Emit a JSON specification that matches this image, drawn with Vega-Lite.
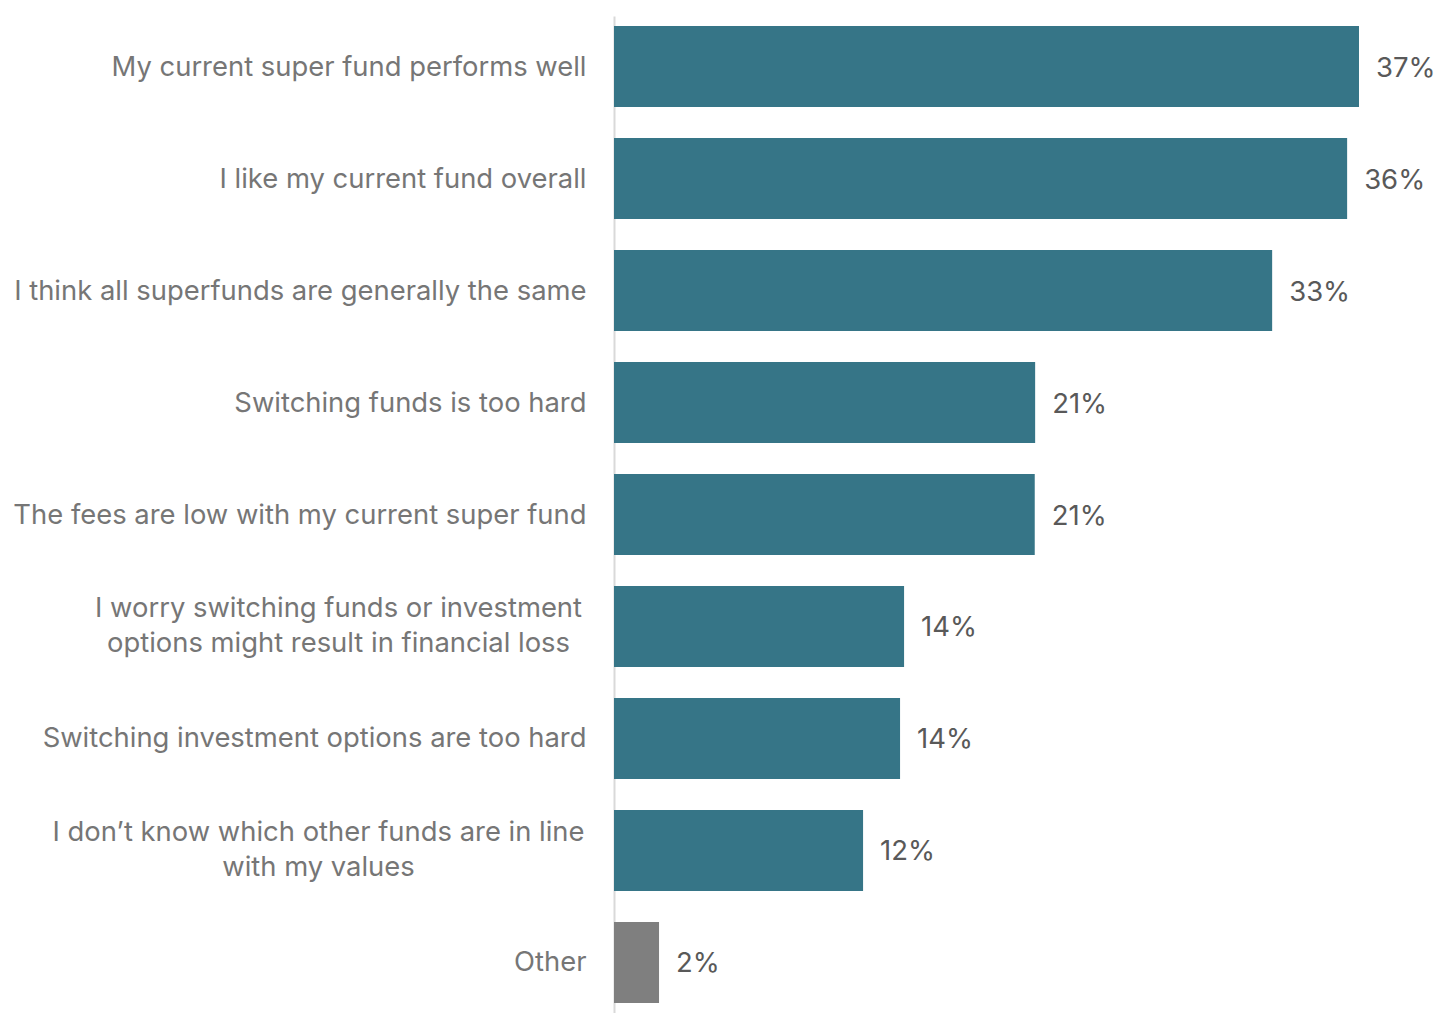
{
  "$schema": "https://vega.github.io/schema/vega-lite/v6.json",
  "autosize": {"type": "none"},
  "padding": {"left": 614, "top": 16, "right": 0, "bottom": 0},
  "width": 825,
  "height": 997,
  "background": "#ffffff",
  "config": {
    "view": {"stroke": null},
    "font": "Inter"
  },
  "data": {
    "values": [
      {"reason": "My current super fund performs well", "share": 0.3706},
      {"reason": "I like my current fund overall", "share": 0.3647},
      {"reason": "I think all superfunds are generally the same", "share": 0.3274},
      {"reason": "Switching funds is too hard", "share": 0.2095},
      {"reason": "The fees are low with my current super fund", "share": 0.2093},
      {"reason": "I worry switching funds or investment|options might result in financial loss", "share": 0.1443},
      {"reason": "Switching investment options are too hard", "share": 0.1423},
      {"reason": "I don’t know which other funds are in line|with my values", "share": 0.1239},
      {"reason": "Other", "share": 0.0224}
    ]
  },
  "encoding": {
    "y": {
      "field": "reason",
      "type": "nominal",
      "sort": null,
      "scale": {"paddingInner": 0.277, "paddingOuter": 0.09},
      "axis": {
        "title": null,
        "ticks": false,
        "domainColor": "#d9d9d9",
        "domainWidth": 2,
        "labelFont": "Inter",
        "labelFontSize": 27.4,
        "labelColor": "#767676",
        "labelLimit": 0,
        "labelLineHeight": 35,
        "labelExpr": "split(datum.label, '|')",
        "labelAlign": {
          "condition": {"test": "indexof(datum.value, '|') >= 0", "value": "center"},
          "value": "right"
        },
        "labelOffset": {
          "condition": {"test": "indexof(datum.value, '|') >= 0", "value": -17},
          "value": 1
        },
        "labelPadding": {
          "condition": [
            {"test": "indexof(datum.value, 'worry') >= 0", "value": 276},
            {"test": "indexof(datum.value, 'values') >= 0", "value": 296}
          ],
          "value": 28
        }
      }
    },
    "x": {
      "field": "share",
      "type": "quantitative",
      "scale": {"domain": [0, 0.4104], "nice": false},
      "axis": null
    }
  },
  "layer": [
    {
      "mark": {"type": "bar"},
      "encoding": {
        "color": {
          "condition": {"test": "datum.reason === 'Other'", "value": "#7f7f7f"},
          "value": "#367587"
        }
      }
    },
    {
      "mark": {
        "type": "text",
        "align": "left",
        "baseline": "middle",
        "dx": 17,
        "dy": 2,
        "font": "Inter",
        "fontSize": 27.5,
        "color": "#595959"
      },
      "encoding": {
        "text": {"field": "share", "type": "quantitative", "format": ".0%"}
      }
    }
  ]
}
